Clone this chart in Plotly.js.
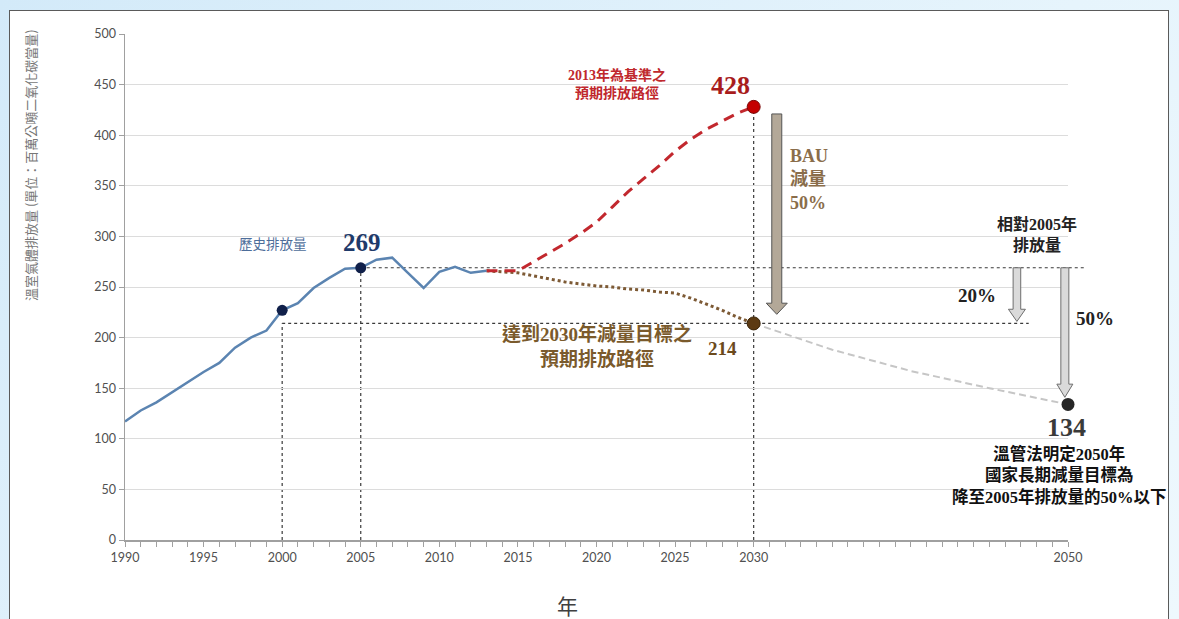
<!DOCTYPE html>
<html>
<head>
<meta charset="utf-8">
<script src="https://cdn.plot.ly/plotly-3.0.1.min.js"></script>
<style>
html,body{margin:0;padding:0;width:1179px;height:619px;overflow:hidden;background:linear-gradient(135deg,#d3eaf9 0%,#e6f4fc 60%,#eef8fd 100%);}
#frame{position:absolute;left:9px;top:10px;width:1158px;height:660px;border:1.5px solid #5a5a5a;background:#ffffff;}
#chart{position:absolute;left:0;top:0;width:1179px;height:619px;}
</style>
</head>
<body>
<div id="frame"></div>
<div id="chart"></div>
<script>
// ---------------- data ----------------
const histYears  = [1990,1991,1992,1993,1994,1995,1996,1997,1998,1999,2000,2001,2002,2003,2004,2005,2006,2007,2008,2009,2010,2011,2012,2013];
const histValues = [117,128,136,146,156,166,175,190,200,207,227,234,249,259,268,269,277,279,264,249,265,270,264,266];

const bauYears  = [2013,2014,2015,2016,2017,2018,2019,2020,2021,2022,2023,2024,2025,2026,2027,2028,2029,2030];
const bauValues = [266,266,266,275,284,293,303,314,329,344,357,370,384,396,406,414,422,428];

const targetYears  = [2013,2014,2015,2016,2017,2018,2019,2020,2021,2022,2023,2024,2025,2026,2027,2028,2029,2030];
const targetValues = [266,265,264,261,258,255,253,251,250,248,247,245,244,239,233,227,220,214];

const longYears  = [2030,2035,2040,2045,2050];
const longValues = [214,188,167,150,134];

const histMarkYears = [2000,2005];

const xTickYears  = [1990,1995,2000,2005,2010,2015,2020,2025,2030,2050];
const xTickLabels = ['1990','1995','2000','2005','2010','2015','2020','2025','2030','2050'];
const yTickValues = [0,50,100,150,200,250,300,350,400,450,500];

// ---------------- helpers ----------------
const W = 1179, H = 619;
const M = {l:125, r:111, t:34, b:79};
const PW = W - M.l - M.r, PH = H - M.t - M.b;
const X0 = 1990, X1 = 2050;
const px2x = px => (px - M.l) / PW;
const py2y = py => (H - M.b - py) / PH;
const yr2paper = (yr, dpx) => (yr - X0) / (X1 - X0) + (dpx || 0) / PW;
const valAt = (years, vals, yr) => vals[years.indexOf(yr)];

const v2000 = valAt(histYears, histValues, 2000);
const v2005 = valAt(histYears, histValues, 2005);
const bau2030 = bauValues[bauValues.length - 1];
const tgt2030 = targetValues[targetValues.length - 1];
const long2050 = longValues[longValues.length - 1];

// all year ticks, only some labelled
const allYears = [];
for (let y = X0; y <= X1; y++) allYears.push(y);
const allText = allYears.map(y => { const i = xTickYears.indexOf(y); return i >= 0 ? xTickLabels[i] : ''; });

// ---------------- traces ----------------
const traces = [
  {x: longYears, y: longValues, mode:'lines', line:{color:'#c6c6c6', width:2, dash:'7px,4px'}, hoverinfo:'skip'},
  {x: targetYears, y: targetValues, mode:'lines', line:{color:'#7d5a35', width:3, dash:'dot'}, hoverinfo:'skip'},
  {x: bauYears, y: bauValues, mode:'lines', line:{color:'#c2282e', width:3, dash:'11px,7px'}, hoverinfo:'skip'},
  {x: histYears, y: histValues, mode:'lines', line:{color:'#5b84b1', width:2.5}, hoverinfo:'skip'},
  {x: histMarkYears, y: histMarkYears.map(y => valAt(histYears, histValues, y)), mode:'markers',
   marker:{color:'#10204a', size:11}, cliponaxis:false, hoverinfo:'skip'},
  {x: [2030], y: [bau2030], mode:'markers', marker:{color:'#c40000', size:13, line:{color:'#7a0a0a', width:1}}, cliponaxis:false, hoverinfo:'skip'},
  {x: [2030], y: [tgt2030], mode:'markers', marker:{color:'#5c3a12', size:13, line:{color:'#3a2408', width:1}}, cliponaxis:false, hoverinfo:'skip'},
  {x: [2050], y: [long2050], mode:'markers', marker:{color:'#262626', size:13}, cliponaxis:false, hoverinfo:'skip'}
];

// ---------------- shapes ----------------
const dotLine = {color:'#3a3a3a', width:1.2, dash:'dot'};
function arrow(cxYear, shaftHalf, headHalf, top, headTop, tip) {
  const c = yr2paper(cxYear), s = shaftHalf / PW, h = headHalf / PW;
  return `M${c-s},${top} L${c+s},${top} L${c+s},${headTop} L${c+h},${headTop} L${c},${tip} L${c-h},${headTop} L${c-s},${headTop} Z`;
}
const shapes = [
  {type:'line', xref:'x', yref:'y', x0:2000, x1:2000, y0:0, y1:tgt2030, line:dotLine, layer:'below'},
  {type:'line', xref:'x', yref:'y', x0:2005, x1:2005, y0:0, y1:v2005, line:dotLine, layer:'below'},
  {type:'line', xref:'x', yref:'y', x0:2030, x1:2030, y0:0, y1:bau2030, line:dotLine, layer:'below'},
  {type:'line', xref:'paper', yref:'y', x0:yr2paper(2005), x1:yr2paper(2051.1), y0:v2005, y1:v2005, line:dotLine, layer:'below'},
  {type:'line', xref:'paper', yref:'y', x0:yr2paper(2000), x1:yr2paper(2047.5), y0:tgt2030, y1:tgt2030, line:dotLine, layer:'below'},
  // BAU 50% arrow
  {type:'path', xref:'paper', yref:'y', path: arrow(2031.47, 5, 10.5, bau2030 - 7, tgt2030 + 20, tgt2030 + 9),
   fillcolor:'#b3a898', line:{color:'#555555', width:1}},
  // 20% arrow
  {type:'path', xref:'paper', yref:'y', path: arrow(2046.75, 3.8, 8.5, v2005, tgt2030 + 14, tgt2030 + 2),
   fillcolor:'#dadada', line:{color:'#6e6e6e', width:1}},
  // 50% arrow
  {type:'path', xref:'paper', yref:'y', path: arrow(2049.8, 4, 8, v2005, long2050 + 20, long2050 + 7),
   fillcolor:'#dadada', line:{color:'#6e6e6e', width:1}}
];

// ---------------- annotations ----------------
const SERIF = '"Liberation Serif", "Noto Sans CJK TC", serif';
const CJK = '"Noto Sans CJK TC", sans-serif';
function ann(text, px, py, size, color, family, extra) {
  return Object.assign({text: text, xref:'paper', yref:'paper', x: px2x(px), y: py2y(py),
    xanchor:'center', yanchor:'middle', showarrow:false,
    font:{size:size, color:color, family:family}}, extra || {});
}
const annotations = [
  ann('溫室氣體排放量 (單位：百萬公噸二氧化碳當量)', 31, 165, 13, '#777777', CJK, {textangle:-90}),
  ann('年', 567, 605, 21, '#404040', CJK),
  ann('歷史排放量', 273, 243, 13.5, '#4d6d9a', CJK),
  ann('<b>' + v2005 + '</b>', 362, 243, 25, '#1f3a6a', SERIF),
  ann('<b>2013年為基準之<br>預期排放路徑</b>', 617, 84, 14, '#c0282d', SERIF),
  ann('<b>' + bau2030 + '</b>', 730, 86, 26, '#a81c1c', SERIF),
  ann('<b>BAU<br>減量<br>50%</b>', 788, 179, 18, '#8a6d4a', SERIF, {xanchor:'left', align:'left'}),
  ann('<b>相對2005年<br>排放量</b>', 1037, 234, 16, '#222222', SERIF),
  ann('<b>20%</b>', 977, 295, 19, '#222222', SERIF),
  ann('<b>50%</b>', 1095, 318, 19, '#222222', SERIF),
  ann('<b>達到2030年減量目標之<br>預期排放路徑</b>', 597, 346, 19, '#7a5a2c', SERIF),
  ann('<b>' + tgt2030 + '</b>', 722, 348, 19, '#6b4a1c', SERIF),
  ann('<b>' + long2050 + '</b>', 1066, 427, 26, '#3a3a3a', SERIF),
  ann('<b>溫管法明定2050年<br>國家長期減量目標為<br>降至2005年排放量的50%以下</b>', 1059, 475, 16.5, '#111111', SERIF)
];

// ---------------- layout ----------------
const tickFont = {family:'Lato, "Open Sans", sans-serif', size:12.5, color:'#505050'};
const layout = {
  width: W, height: H,
  margin: {l:M.l, r:M.r, t:M.t, b:M.b, pad:0},
  paper_bgcolor:'rgba(0,0,0,0)', plot_bgcolor:'rgba(0,0,0,0)',
  showlegend:false, hovermode:false,
  xaxis:{range:[X0, X1], tickmode:'array', tickvals: allYears, ticktext: allText,
    ticks:'outside', ticklen:5, tickwidth:1, tickcolor:'#a0a0a0',
    showline:true, linecolor:'#a0a0a0', linewidth:1.5, showgrid:false, zeroline:false,
    tickfont: tickFont, fixedrange:true},
  yaxis:{range:[0, 500], tickmode:'array', tickvals: yTickValues,
    ticks:'outside', ticklen:5, tickwidth:1, tickcolor:'#a0a0a0',
    showline:true, linecolor:'#a0a0a0', linewidth:1.5,
    showgrid:true, gridcolor:'#dcdcdc', gridwidth:1, zeroline:false,
    tickfont: tickFont, fixedrange:true},
  shapes: shapes,
  annotations: annotations
};

Plotly.newPlot('chart', traces, layout, {displayModeBar:false, staticPlot:true});
</script>
</body>
</html>
